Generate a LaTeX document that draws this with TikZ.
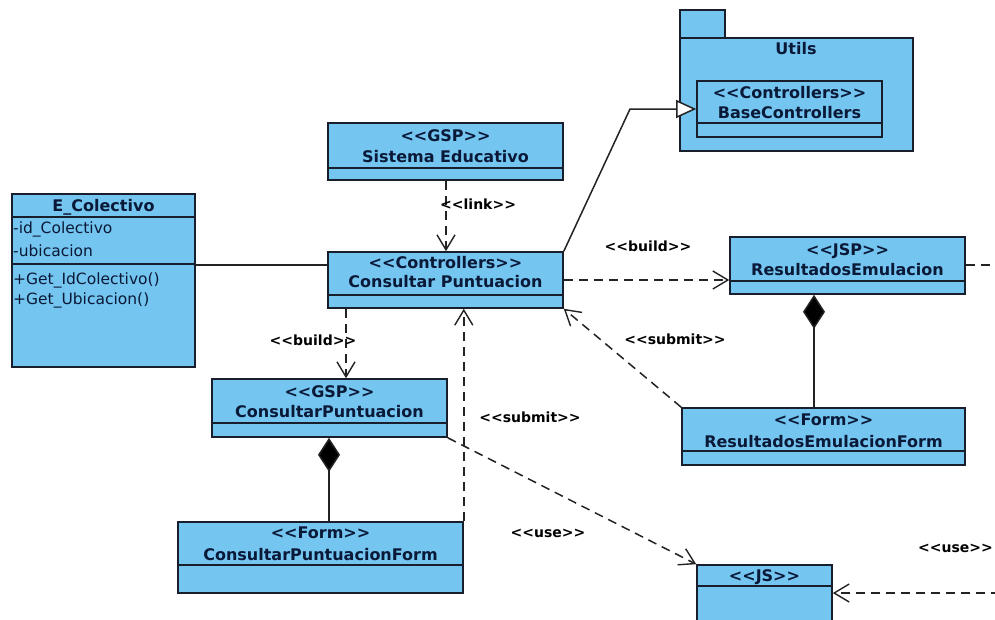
\documentclass[tikz,border=0pt]{standalone}
\usepackage{fontspec}
\setmainfont{DejaVu Sans}[Ligatures=TeXOff]
\usetikzlibrary{arrows.meta,fit}

\definecolor{classblue}{RGB}{116,197,240}
\definecolor{edge}{RGB}{25,30,45}
\definecolor{ink}{RGB}{10,25,55}
\definecolor{wire}{RGB}{35,35,35}

\tikzset{
  classrect/.style={draw=edge, fill=classblue, line width=1.6pt, inner sep=0pt},
  divider/.style={draw=edge, line width=1.4pt},
  nametext/.style={font=\fontsize{16}{19}\selectfont\bfseries, text=ink, inner sep=0pt, anchor=mid, yshift=-3pt},
  membertext/.style={font=\fontsize{15.5}{18}\selectfont, text=ink, inner sep=0pt, anchor=mid west, yshift=-2pt},
  deplabel/.style={font=\fontsize{14}{17}\selectfont\bfseries, text=black, inner sep=0pt, anchor=mid, yshift=-2pt},
  dep/.style={draw=wire, line width=1.5pt, dash pattern=on 9pt off 6pt,
    -{Straight Barb[length=15pt,width=18pt,line width=1.4pt]}},
  assoc/.style={draw=wire, line width=1.5pt},
  compose/.style={draw=wire, line width=1.5pt, -{Diamond[length=34pt,width=22pt,fill=black]}},
  generalize/.style={draw=wire, line width=1.5pt, -{Triangle[open,length=20pt,width=18pt,fill=white]}},
}

% class box: name, left, top, right, bottom, divider rows
\newcommand{\umlclass}[6]{%
  \node[classrect, fit={(#2,#3) (#4,#5)}] (#1) {};
  \foreach \dy in {#6} {\draw[divider] (#2,\dy) -- (#4,\dy);}
}

\begin{document}
\begin{tikzpicture}[x=1pt,y=-1pt]
\fill[white] (0,0) rectangle (995,619);
\useasboundingbox (0,0) rectangle (995,619);
\clip (0,0) rectangle (995,619);

% package Utils
\node[classrect, fit={(680,10) (725,38)}] (utilstab) {};
\node[classrect, fit={(680,38) (913,151)}] (utils) {};
\node[nametext] (utilsname) at (796,49) {Utils};
\umlclass{base}{697}{81}{882}{137}{123}
\node[nametext] (basest) at (789.5,93) {<<Controllers>>};
\node[nametext] (basename) at (789.5,113) {BaseControllers};

% Sistema Educativo
\umlclass{sis}{328}{123}{563}{180}{168}
\node[nametext] (sisst) at (445.5,136) {<<GSP>>};
\node[nametext] (sisname) at (445.5,157) {Sistema Educativo};

% Consultar Puntuacion controller
\umlclass{ctrl}{328}{252}{563}{308}{295}
\node[nametext] (ctrlst) at (445.5,263) {<<Controllers>>};
\node[nametext] (ctrlname) at (445.5,282) {Consultar Puntuacion};

% E_Colectivo
\umlclass{ecol}{12}{194}{195}{367}{217,264}
\node[nametext] (ecolname) at (103.5,206) {E\_Colectivo};
\node[membertext] (ecola) at (13,229) {-id\_Colectivo};
\node[membertext] (ecolb) at (13,252) {-ubicacion};
\node[membertext] (ecolc) at (13,280) {+Get\_IdColectivo()};
\node[membertext] (ecold) at (13,300) {+Get\_Ubicacion()};

% ConsultarPuntuacion page
\umlclass{gsp}{212}{379}{447}{437}{423}
\node[nametext] (gspst) at (329.5,392) {<<GSP>>};
\node[nametext] (gspname) at (329.5,412) {ConsultarPuntuacion};

% ConsultarPuntuacionForm
\umlclass{cpf}{178}{522}{463}{593}{565}
\node[nametext] (cpfst) at (320.5,533) {<<Form>>};
\node[nametext] (cpfname) at (320.5,555) {ConsultarPuntuacionForm};

% ResultadosEmulacion
\umlclass{res}{730}{237}{965}{294}{281}
\node[nametext] (resst) at (847.5,250) {<<JSP>>};
\node[nametext] (resname) at (847.5,270) {ResultadosEmulacion};

% ResultadosEmulacionForm
\umlclass{ref}{682}{408}{965}{465}{451}
\node[nametext] (refst) at (823.5,420) {<<Form>>};
\node[nametext] (refname) at (823.5,442) {ResultadosEmulacionForm};

% JS script
\umlclass{js}{697}{565}{832}{640}{586}
\node[nametext] (jsst) at (764.5,576) {<<JS>>};

% helper coordinates
\coordinate (xlink) at (446,0);
\coordinate (xbuild) at (346,0);
\coordinate (xcomp) at (329,0);
\coordinate (xrcomp) at (814,0);
\coordinate (yassoc) at (0,265);
\coordinate (ybuild) at (0,280);
\coordinate (bend) at (630,109);
\coordinate (jsfrom) at (1000,593);
\coordinate (resto) at (1000,265);

% connectors
\draw[dep] (sis.south -| xlink) -- (ctrl.north -| xlink);
\node[deplabel, anchor=mid west] (linklbl) at (440,205) {<<link>>};

\draw[assoc] (ecol.east |- yassoc) -- (ctrl.west |- yassoc);

\draw[dep] (ctrl.south -| xbuild) -- (gsp.north -| xbuild);
\node[deplabel] (buildlbl) at (313,341) {<<build>>};

\draw[dep] (cpf.north east) -- (cpf.north east |- ctrl.south);
\node[deplabel] (submitlbl) at (530,418) {<<submit>>};

\draw[compose] (cpf.north -| xcomp) -- (gsp.south -| xcomp);

\draw[dep] (gsp.south east) -- (js.north west);
\node[deplabel] (uselbl) at (548,533) {<<use>>};

\draw[dep] (jsfrom) -- (js.east |- jsfrom);
\node[deplabel, anchor=mid east] (uselbl2) at (993,548) {<<use>>};

\draw[dep] (ctrl.east |- ybuild) -- (res.west |- ybuild);
\node[deplabel] (buildlbl2) at (648,247) {<<build>>};

\draw[dep] (ref.north west) -- (ctrl.south east);
\node[deplabel] (submitlbl2) at (675,340) {<<submit>>};

\draw[compose] (ref.north -| xrcomp) -- (res.south -| xrcomp);

\draw[assoc, dash pattern=on 9pt off 6pt] (res.east |- resto) -- (resto);

\draw[generalize] (ctrl.north east) -- (bend) -- (base.west);
\end{tikzpicture}
\end{document}
